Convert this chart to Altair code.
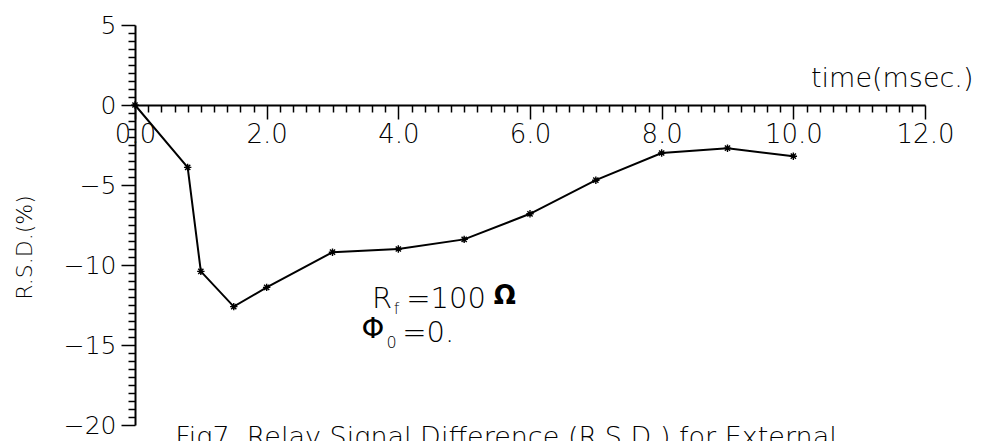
import altair as alt
import pandas as pd

# ---- data ----
time_ms = [0.0, 0.8, 1.0, 1.5, 2.0, 3.0, 4.0, 5.0, 6.0, 7.0, 8.0, 9.0, 10.0]
rsd_pct = [0.0, -3.9, -10.4, -12.6, -11.4, -9.2, -9.0, -8.4, -6.8, -4.7, -3.0, -2.7, -3.2]

x_tick_values = [round(i * 0.2, 1) for i in range(61)]
y_tick_values = [round(-20 + i * 0.5, 1) for i in range(51)]

x_title = "time(msec.)"
y_title = "R.S.D.(%)"
caption = "Fig7. Relay Signal Difference (R.S.D.) for External"

df = pd.DataFrame({"t": time_ms, "v": rsd_pct})

FONT = "DejaVu Sans"
WEIGHT = 300

xscale = alt.Scale(domain=[0, 12], nice=False, zero=False)
yscale = alt.Scale(domain=[-20, 5], nice=False, zero=False)

x_major = "abs(datum.value/2 - round(datum.value/2)) < 0.001"
y_major = "abs(datum.value/5 - round(datum.value/5)) < 0.001"

xaxis = alt.Axis(
    values=x_tick_values,
    format=".1f",
    labelExpr=f"{x_major} ? datum.label : ''",
    tickSize={"condition": {"test": x_major, "value": 14}, "value": 7},
    labelPadding=2,
    labelFlush=False,
    labelOverlap=False,
    labelFontSize=26,
    offset=-320,
    title=x_title,
    titleX=838,
    titleY=-19,
    titleAlign="right",
    titleBaseline="alphabetic",
    titleFontSize=27,
)
yaxis = alt.Axis(
    values=y_tick_values,
    format=".0f",
    labelExpr=f"{y_major} ? datum.label : ''",
    tickSize={"condition": {"test": y_major, "value": 14}, "value": 7},
    labelPadding=5,
    labelFlush=False,
    labelOverlap=False,
    labelFontSize=25,
    title=y_title,
    titleX=-111,
    titleY=222,
    titleAngle=270,
    titleAlign="center",
    titleBaseline="middle",
    titleFontSize=22,
)

X = alt.X("t:Q", scale=xscale, axis=xaxis)
Y = alt.Y("v:Q", scale=yscale, axis=yaxis)

line = alt.Chart(df).mark_line(color="black", strokeWidth=2, interpolate="linear").encode(x=X, y=Y)

star = "M-1,0L1,0M0,-1L0,1M-0.7,-0.7L0.7,0.7M-0.7,0.7L0.7,-0.7"
pts = alt.Chart(df).mark_point(shape=star, size=55, filled=False, stroke="black",
                               strokeWidth=1.4, opacity=1).encode(x=X, y=Y)


def label(t, v, s, size, weight=WEIGHT):
    return alt.Chart(alt.Data(values=[{}])).mark_text(
        text=s, align="left", baseline="alphabetic", font=FONT,
        fontSize=size, fontWeight=weight, color="black"
    ).encode(
        x=alt.XDatum(t, type="quantitative", scale=xscale, axis=xaxis),
        y=alt.YDatum(v, type="quantitative", scale=yscale, axis=yaxis),
    )


texts = [
    label(3.60, -12.69, "R", 29),
    label(3.93, -13.05, "f", 16),
    label(4.12, -12.69, "=100", 29),
    label(5.45, -12.45, "Ω", 26, "bold"),
    label(3.44, -14.56, "Φ", 29, "normal"),
    label(3.82, -15.2, "0", 16),
    label(4.06, -14.81, "=0.", 29),
    label(0.61, -21.3, caption, 27),
]

chart = alt.layer(line, pts, *texts).properties(
    width=790,
    height=400,
    padding={"left": 127, "top": 17, "right": 48, "bottom": 16},
    autosize=alt.AutoSizeParams(type="none"),
    background="white",
).configure_view(stroke=None).configure_axis(
    grid=False,
    domainColor="black",
    domainWidth=2,
    tickColor="black",
    tickWidth=1.5,
    labelColor="black",
    labelFont=FONT,
    labelFontWeight=WEIGHT,
    titleColor="black",
    titleFont=FONT,
    titleFontWeight=WEIGHT,
)

chart.save("out.html", embed_options={"renderer": "svg", "actions": False})
